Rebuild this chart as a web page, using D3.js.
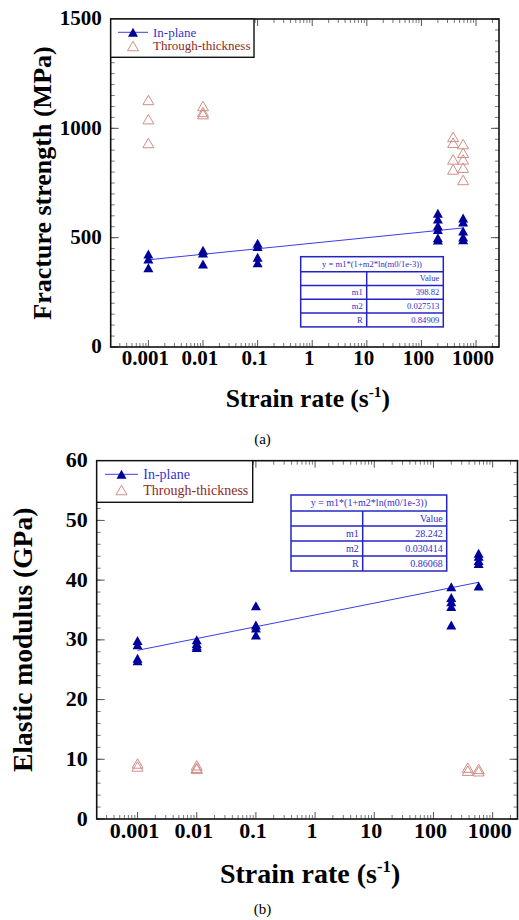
<!DOCTYPE html>
<html>
<head>
<meta charset="utf-8">
<script src="https://cdn.jsdelivr.net/npm/d3@7"></script>
<style>
  body { margin: 0; background: #fff; }
</style>
</head>
<body>
<div id="chart"></div>
<script>
// strain rate ticks shared by both panels
let rateTicks = [0.001, 0.01, 0.1, 1, 10, 100, 1000];
let rateTickLabels = ["0.001", "0.01", "0.1", "1", "10", "100", "1000"];

// (a) fracture strength, MPa
let strengthTicks = [0, 500, 1000, 1500];
let strengthInPlane = [
  [0.001, 425], [0.001, 403], [0.001, 362],
  [0.01, 443], [0.01, 430], [0.01, 380],
  [0.1, 475], [0.1, 460], [0.1, 410], [0.1, 385],
  [200, 612], [200, 585], [200, 555], [200, 537], [200, 500], [200, 489],
  [580, 590], [580, 572], [580, 530], [580, 503], [580, 490]
];
let strengthThrough = [
  [0.001, 1130], [0.001, 1042], [0.001, 933],
  [0.01, 1102], [0.01, 1075], [0.01, 1065],
  [380, 961], [380, 934], [380, 858], [380, 812],
  [580, 928], [580, 888], [580, 858], [580, 820], [580, 764]
];
let strengthFit = {m1: 398.82, m2: 0.027513, R: 0.84909, from: 0.001, to: 580};
let strengthFitLabels = ["398.82", "0.027513", "0.84909"];

// (b) elastic modulus, GPa
let modulusTicks = [0, 10, 20, 30, 40, 50, 60];
let modulusInPlane = [
  [0.001, 29.9], [0.001, 29.2], [0.001, 26.9], [0.001, 26.5],
  [0.01, 30.0], [0.01, 29.4], [0.01, 29.0], [0.01, 28.7],
  [0.1, 35.7], [0.1, 32.5], [0.1, 32.0], [0.1, 30.8],
  [200, 38.9], [200, 37.1], [200, 36.4], [200, 35.6], [200, 32.5],
  [580, 44.5], [580, 44.0], [580, 43.3], [580, 42.8], [580, 39.0]
];
let modulusThrough = [
  [0.001, 9.3], [0.001, 8.8],
  [0.01, 9.0], [0.01, 8.6], [0.01, 8.4],
  [380, 8.6], [380, 8.1],
  [580, 8.4], [580, 8.0]
];
let modulusFit = {m1: 28.242, m2: 0.030414, R: 0.86068, from: 0.001, to: 580};
let modulusFitLabels = ["28.242", "0.030414", "0.86068"];

let fitTitle = "y = m1*(1+m2*ln(m0/1e-3))";
let fitRowNames = ["m1", "m2", "R"];
let seriesNames = ["In-plane", "Through-thickness"];

let inPlaneColor = "#00009a";
let throughColor = "#d08f87";
let fitColor = "#3c3ce6";
let fontFamily = "Liberation Serif, Times New Roman, Times, serif";

var canvas = d3.select("#chart")
        .append("svg")
        .attr("width", 519)
        .attr("height", 920)
        .attr("font-family", fontFamily);

drawPanel({
  left: 110.7, right: 499, top: 19, bottom: 347,
  yMax: 1500, yTicks: strengthTicks, yMinorStep: 50,
  tickFont: 21, yTitle: "Fracture strength (MPa)", yTitleX: 42, yTitleFont: 26,
  xTitleY: 407, xTitleFont: 25.5, caption: "(a)", captionY: 444, captionFont: 15,
  inPlane: strengthInPlane, through: strengthThrough,
  fit: strengthFit, fitLabels: strengthFitLabels,
  legendBox: [110.7, 19, 254, 57.3], legendLine: [118, 148], legendText: 153,
  legendRows: [32.3, 46], legendFont: 13,
  table: {x: 300.7, y: 256.7, w: 142.6, col: 66, titleH: 15, rowH: 13.8, font: 8.6}
});

drawPanel({
  left: 96.7, right: 517.5, top: 460.7, bottom: 819,
  yMax: 60, yTicks: modulusTicks, yMinorStep: 2,
  tickFont: 22, yTitle: "Elastic modulus (GPa)", yTitleX: 22, yTitleFont: 27.5,
  xTitleY: 883, xTitleFont: 28, caption: "(b)", captionY: 914, captionFont: 15,
  inPlane: modulusInPlane, through: modulusThrough,
  fit: modulusFit, fitLabels: modulusFitLabels,
  legendBox: [96.7, 460.7, 252.7, 502.3], legendLine: [105, 138], legendText: 143.3,
  legendRows: [474.3, 490], legendFont: 14,
  table: {x: 291, y: 495, w: 155.7, col: 71.7, titleH: 16, rowH: 15, font: 10}
});

// triangle path centred on its bounding box
function trianglePath(w, h){
  return "M0," + (-h / 2) + "L" + (w / 2) + "," + (h / 2) + "L" + (-w / 2) + "," + (h / 2) + "Z";
}

function drawPanel(p){
  let g = canvas.append("g");

  let x = d3.scaleLog()
      .domain([Math.pow(10, -3.69), Math.pow(10, 3.42)])
      .range([p.left, p.right]);
  let y = d3.scaleLinear()
      .domain([0, p.yMax])
      .range([p.bottom, p.top]);

  // minor log ticks (2..9 of each decade) on bottom and top, pointing in
  let minorX = [];
  for(let e = -4; e <= 3; e++){
    for(let k = 2; k <= 9; k++){
      let v = k * Math.pow(10, e);
      if(v > x.domain()[0] && v < x.domain()[1]) minorX.push(v);
    }
  }
  let ticksColor = "#555";
  [p.bottom, p.top].forEach(function(yy, i){
    let dir = i == 0 ? -1 : 1;
    g.selectAll(null).data(minorX).enter().append("line")
      .attr("x1", d => x(d)).attr("x2", d => x(d))
      .attr("y1", yy).attr("y2", yy + dir * 4)
      .attr("stroke", ticksColor).attr("stroke-width", 0.8);
    g.selectAll(null).data(rateTicks).enter().append("line")
      .attr("x1", d => x(d)).attr("x2", d => x(d))
      .attr("y1", yy).attr("y2", yy + dir * 7)
      .attr("stroke", ticksColor).attr("stroke-width", 1);
  });

  // y ticks on left and right, pointing in
  let minorY = d3.range(0, p.yMax + 0.001, p.yMinorStep);
  [p.left, p.right].forEach(function(xx, i){
    let dir = i == 0 ? 1 : -1;
    g.selectAll(null).data(minorY).enter().append("line")
      .attr("x1", xx).attr("x2", xx + dir * 4)
      .attr("y1", d => y(d)).attr("y2", d => y(d))
      .attr("stroke", ticksColor).attr("stroke-width", 0.8);
    g.selectAll(null).data(p.yTicks).enter().append("line")
      .attr("x1", xx).attr("x2", xx + dir * 8)
      .attr("y1", d => y(d)).attr("y2", d => y(d))
      .attr("stroke", ticksColor).attr("stroke-width", 1);
  });

  // frame
  g.append("rect")
    .attr("x", p.left).attr("y", p.top)
    .attr("width", p.right - p.left).attr("height", p.bottom - p.top)
    .attr("fill", "none").attr("stroke", "#111").attr("stroke-width", 1.6);

  // tick labels
  g.selectAll(null).data(p.yTicks).enter().append("text")
    .attr("x", p.left - 9).attr("y", d => y(d) + p.tickFont * 0.3)
    .attr("text-anchor", "end")
    .attr("font-size", p.tickFont).attr("font-weight", "bold")
    .text(d => d);
  g.selectAll(null).data(rateTicks).enter().append("text")
    .attr("x", d => x(d) - 3).attr("y", p.bottom + p.tickFont * 0.88)
    .attr("text-anchor", "middle")
    .attr("font-size", p.tickFont).attr("font-weight", "bold")
    .text((d, i) => rateTickLabels[i]);

  // axis titles
  g.append("text")
    .attr("transform", "translate(" + p.yTitleX + "," + ((p.top + p.bottom) / 2) + ") rotate(-90)")
    .attr("dy", "0.35em")
    .attr("text-anchor", "middle")
    .attr("font-size", p.yTitleFont).attr("font-weight", "bold")
    .text(p.yTitle);

  let xt = g.append("text")
    .attr("x", (p.left + p.right) / 2 + 3).attr("y", p.xTitleY)
    .attr("text-anchor", "middle")
    .attr("font-size", p.xTitleFont).attr("font-weight", "bold");
  xt.append("tspan").text("Strain rate (s");
  xt.append("tspan").attr("dy", -p.xTitleFont * 0.4)
    .attr("font-size", p.xTitleFont * 0.6).text("-1");
  xt.append("tspan").attr("dy", p.xTitleFont * 0.4).text(")");

  g.append("text")
    .attr("x", 262.5).attr("y", p.captionY)
    .attr("text-anchor", "middle")
    .attr("font-size", p.captionFont)
    .text(p.caption);

  // fit line from the fitted parameters
  let fitPts = [p.fit.from, p.fit.to].map(r => [r, p.fit.m1 * (1 + p.fit.m2 * Math.log(r / 1e-3))]);
  g.append("path")
    .attr("d", d3.line().x(d => x(d[0])).y(d => y(d[1]))(fitPts))
    .attr("fill", "none").attr("stroke", fitColor).attr("stroke-width", 1);

  // markers
  g.selectAll(null).data(p.through).enter().append("path")
    .attr("transform", d => "translate(" + x(d[0]) + "," + y(d[1]) + ")")
    .attr("d", trianglePath(11, 9.5))
    .attr("fill", "none").attr("stroke", throughColor).attr("stroke-width", 1);
  g.selectAll(null).data(p.inPlane).enter().append("path")
    .attr("transform", d => "translate(" + x(d[0]) + "," + y(d[1]) + ")")
    .attr("d", trianglePath(10, 9))
    .attr("fill", inPlaneColor);

  // legend
  let lb = p.legendBox;
  g.append("rect")
    .attr("x", lb[0]).attr("y", lb[1])
    .attr("width", lb[2] - lb[0]).attr("height", lb[3] - lb[1])
    .attr("fill", "#fff").attr("stroke", "#111").attr("stroke-width", 1.4);
  let lmid = (p.legendLine[0] + p.legendLine[1]) / 2;
  g.append("line")
    .attr("x1", p.legendLine[0]).attr("x2", p.legendLine[1])
    .attr("y1", p.legendRows[0]).attr("y2", p.legendRows[0])
    .attr("stroke", fitColor).attr("stroke-width", 1);
  g.append("path")
    .attr("transform", "translate(" + lmid + "," + p.legendRows[0] + ")")
    .attr("d", trianglePath(10, 9)).attr("fill", inPlaneColor);
  g.append("path")
    .attr("transform", "translate(" + lmid + "," + p.legendRows[1] + ")")
    .attr("d", trianglePath(11, 9.5))
    .attr("fill", "none").attr("stroke", throughColor).attr("stroke-width", 1);
  let legendColors = ["#3434d0", "#8e2a22"];
  seriesNames.forEach(function(name, i){
    g.append("text")
      .attr("x", p.legendText).attr("y", p.legendRows[i] + p.legendFont * 0.33)
      .attr("font-size", p.legendFont)
      .attr("fill", legendColors[i])
      .text(name);
  });

  drawFitTable(g, p.table, p.fitLabels);
}

// fit result table, Origin style
function drawFitTable(g, t, values){
  let tableColor = "#2424c4";
  let textColor = "#3030c8";
  let h = t.titleH + 4 * t.rowH;
  g.append("rect")
    .attr("x", t.x).attr("y", t.y).attr("width", t.w).attr("height", h)
    .attr("fill", "#fff").attr("stroke", tableColor).attr("stroke-width", 1.5);
  for(let i = 0; i < 4; i++){
    let yy = t.y + t.titleH + i * t.rowH;
    g.append("line")
      .attr("x1", t.x).attr("x2", t.x + t.w)
      .attr("y1", yy).attr("y2", yy)
      .attr("stroke", tableColor).attr("stroke-width", 1.5);
  }
  g.append("line")
    .attr("x1", t.x + t.col).attr("x2", t.x + t.col)
    .attr("y1", t.y + t.titleH).attr("y2", t.y + h)
    .attr("stroke", tableColor).attr("stroke-width", 1.5);

  g.append("text")
    .attr("x", t.x + t.w / 2).attr("y", t.y + t.titleH / 2 + t.font * 0.33)
    .attr("text-anchor", "middle")
    .attr("font-size", t.font).attr("fill", textColor)
    .text(fitTitle);
  let cells = [["", "Value"]].concat(fitRowNames.map((n, i) => [n, values[i]]));
  cells.forEach(function(row, i){
    let cy = t.y + t.titleH + i * t.rowH + t.rowH / 2 + t.font * 0.33;
    g.append("text")
      .attr("x", t.x + t.col - 4).attr("y", cy)
      .attr("text-anchor", "end")
      .attr("font-size", t.font).attr("fill", textColor)
      .text(row[0]);
    g.append("text")
      .attr("x", t.x + t.w - 4).attr("y", cy)
      .attr("text-anchor", "end")
      .attr("font-size", t.font).attr("fill", textColor)
      .text(row[1]);
  });
}
</script>
</body>
</html>
